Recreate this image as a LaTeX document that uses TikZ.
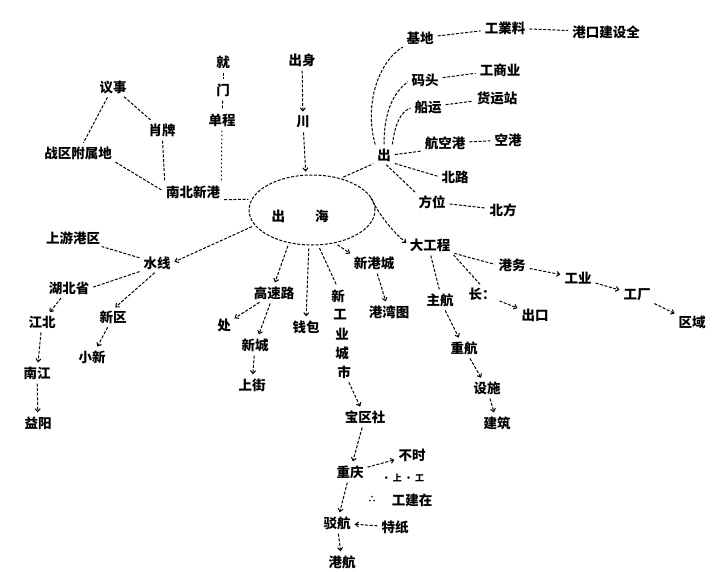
\documentclass[tikz,border=0pt]{standalone}
\usepackage{fontspec}
\newfontfamily\cjk{Noto Sans CJK SC}
\usetikzlibrary{arrows.meta,shapes.geometric}
\tikzset{
  t/.style={inner sep=1pt, font=\cjk\bfseries\fontsize{13.5}{15}\selectfont},
  ts/.style={inner sep=1pt, font=\cjk\bfseries\fontsize{9}{10}\selectfont},
  ln/.style={draw=black, line width=1pt, dash pattern=on 3pt off 1.6pt, shorten <=3pt, shorten >=3pt},
  ar/.style={ln, -{Straight Barb[length=3pt,width=5pt]}},
  dot/.style={ln, dash pattern=on 1.5pt off 2.5pt}
}
\begin{document}
\begin{tikzpicture}[x=1pt,y=-1pt]
\useasboundingbox (0,0) rectangle (712,571);
\fill[white] (0,0) rectangle (712,571);
% centre
\node[draw, ellipse, line width=1pt, dash pattern=on 3pt off 1.6pt, minimum width=126pt, minimum height=70pt] (c) at (312,210) {};
\node[t] (ct) at (300,216) {出\hspace{30pt}海};
% upper right
\node[t] (ch) at (384,155) {出};
\node[t] (jd) at (420,38) {基地};
\node[t] (jd2) at (505,28) {工業料};
\node[t] (jd3) at (606,32) {港口建设全};
\node[t] (mt) at (425,80) {码头};
\node[t] (mt2) at (500,70) {工商业};
\node[t] (cy) at (428,107) {船运};
\node[t] (cy2) at (497,98) {货运站};
\node[t] (hk) at (445,143) {航空港};
\node[t] (hk2) at (508,140) {空港};
\node[t] (bl) at (455,177) {北路};
\node[t] (fw) at (432,202) {方位};
\node[t] (fw2) at (503,210) {北方};
% right lower
\node[t] (dg) at (430,245) {大工程};
\node[t] (gw) at (512,265) {港务};
\node[t] (gy) at (578,278) {工业};
\node[t] (gc) at (637,295) {工厂};
\node[t] (qy) at (692,322) {区域};
\node[t] (zh) at (440,300) {主航};
\node[t] (ev) at (482,294) {长：};
\node[t] (ck) at (535,315) {出口};
\node[t] (zh2) at (464,348) {重航};
\node[t] (ss) at (487,388) {设施};
\node[t] (jz) at (497,423) {建筑};
% down
\node[t] (xgc) at (374,263) {新港城};
\node[t] (gwt) at (389,312) {港湾图};
\node[t] (jc) at (274,293) {高速路};
\node[t] (cl) at (224,325) {处};
\node[t] (xm) at (255,345) {新城};
\node[t] (sj) at (252,385) {上街};
\node[t] (qb) at (306,327) {钱包};
\node[t] (v1) at (338,296) {新};
\node[t] (v2) at (340,315) {工};
\node[t] (v3) at (342,334) {业};
\node[t] (v4) at (342,353) {城};
\node[t] (v5) at (344,372) {市};
\node[t] (bqs) at (365,417) {宝区社};
\node[t] (cq) at (350,472) {重庆};
\node[t] (bs) at (412,455) {不时};
\node[ts] (sm) at (403,478) {· 上 · 工};
\node[ts] (dd) at (372,499) {∴};
\node[t] (gjz) at (412,500) {工建在};
\node[t] (bc) at (337,523) {驳航};
\node[t] (tz) at (395,527) {特纸};
\node[t] (gh) at (342,562) {港航};
% left
\node[t] (sx) at (157,263) {水线};
\node[t] (syg) at (73,238) {上游港区};
\node[t] (hb) at (69,288) {湖北省};
\node[t] (xq) at (113,317) {新区};
\node[t] (xx) at (92,357) {小新};
\node[t] (jb) at (42,322) {江北};
\node[t] (nj) at (37,373) {南江};
\node[t] (yy) at (38,423) {益阳};
% upper left
\node[t] (nb) at (193,192) {南北新港};
\node[t] (ys) at (162,130) {肖牌};
\node[t] (sh) at (113,87) {议事};
\node[t] (zc) at (78,153) {战区附属地};
\node[t] (jiu) at (223,62) {就};
\node[t] (mn) at (223,90) {门};
\node[t] (zm) at (222,120) {单程};
\node[t] (cs) at (302,60) {出身};
\node[t] (t2) at (303,122) {川};

% connectors: upper right
\draw[ln] (c.48) -- (ch.south west);
\draw[ln] (ch.north west) .. controls (364,105) and (378,62) .. (jd.south west);
\draw[ln] (ch.north) .. controls (384,118) and (390,95) .. (mt.west);
\draw[ln] (ch.north east) .. controls (395,125) and (400,112) .. (cy.west);
\draw[ln] (ch.east) -- (hk.south west);
\draw[ln] (ch.south east) -- (bl.west);
\draw[ln] (ch.south) -- (fw.north west);
\draw[ln] (jd) -- (jd2);
\draw[ln] (jd2) -- (jd3);
\draw[ln] (mt) -- (mt2);
\draw[ln] (cy) -- (cy2);
\draw[ln] (hk) -- (hk2);
\draw[ln] (fw) -- (fw2);
% right lower
\draw[ar] (c.15) .. controls (372,200) and (382,222) .. (dg.west);
\draw[ln] (dg.south east) -- (gw.west);
\draw[ar] (gw) -- (gy);
\draw[ar] (gy) -- (gc);
\draw[ar] (gc) -- (qy);
\draw[ln] (dg.south) -- (zh.north);
\draw[ln] (dg.south east) -- (ev.north);
\draw[ar] (ev) -- (ck);
\draw[ar] (zh) -- (zh2);
\draw[ar] (zh2) -- (ss);
\draw[ar] (ss) -- (jz);
% down
\draw[ar] (c.-55) -- (xgc.north west);
\draw[ar] (xgc) -- (gwt);
\draw[ar] (c.-125) -- (jc.north);
\draw[ar] (jc) -- (cl);
\draw[ar] (jc) -- (xm);
\draw[ar] (xm) -- (sj);
\draw[ar] (c.-95) -- (qb.north);
\draw[ln] (c.-80) -- (v1.north);
\draw[ar] (v5) -- (bqs);
\draw[ar] (bqs) -- (cq);
\draw[ar] (cq) -- (bs);
\draw[ar] (cq) -- (bc);
\draw[ar] (tz) -- (bc);
\draw[ar] (bc) -- (gh);
% left
\draw[ar] (c.195) -- (sx.east);
\draw[ln] (sx) -- (syg);
\draw[ln] (sx.south west) -- (hb.east);
\draw[ar] (sx.south) -- (xq.north);
\draw[ar] (xq) -- (xx);
\draw[ar] (hb) -- (jb);
\draw[ar] (jb) -- (nj);
\draw[ar] (nj) -- (yy);
% upper left
\draw[ln] (nb.south east) -- (c.170);
\draw[ln] (ys) -- (nb.north west);
\draw[ln] (sh) -- (ys);
\draw[ln] (sh) -- (zc);
\draw[ln] (zc.south east) -- (nb.west);
\draw[ln] (jiu) -- (mn);
\draw[ln] (mn) -- (zm);
\draw[dot] (zm) -- (nb.north east);
\draw[ar] (cs) -- (t2);
\draw[ar] (t2) -- (c.100);
\end{tikzpicture}
\end{document}
